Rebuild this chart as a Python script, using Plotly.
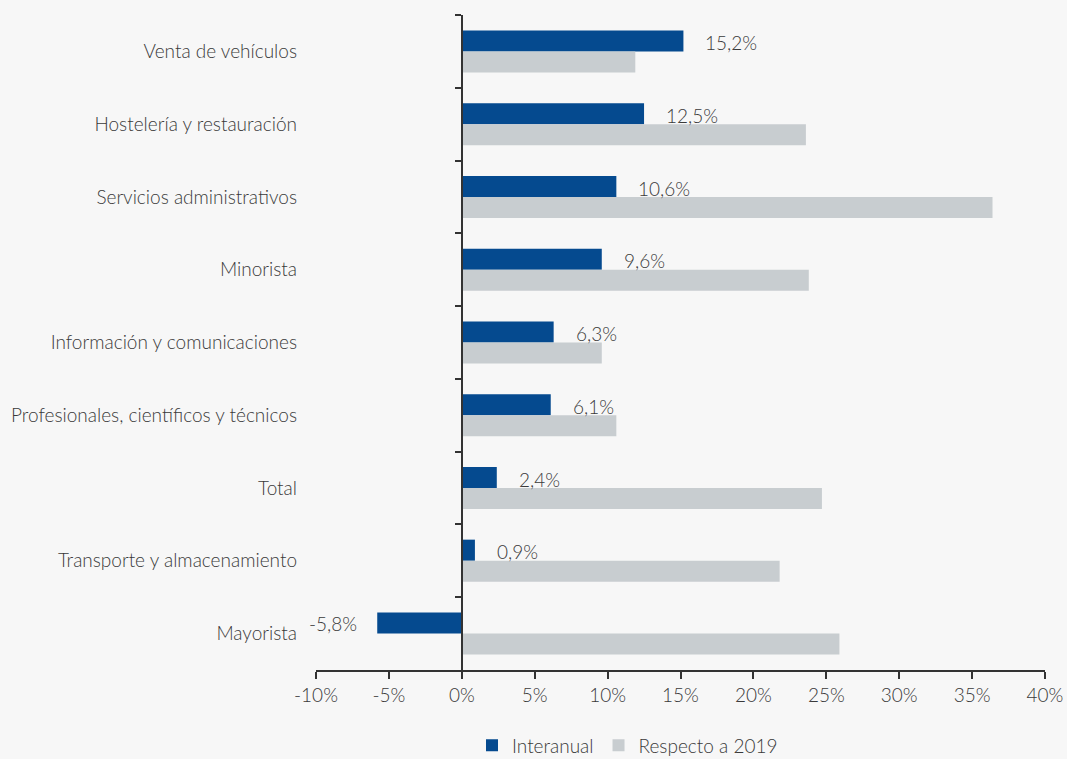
import plotly.graph_objects as go

categories = [
    "Venta de vehículos",
    "Hostelería y restauración",
    "Servicios administrativos",
    "Minorista",
    "Información y comunicaciones",
    "Profesionales, científicos y técnicos",
    "Total",
    "Transporte y almacenamiento",
    "Mayorista",
]
interanual = [15.2, 12.5, 10.6, 9.6, 6.3, 6.1, 2.4, 0.9, -5.8]
respecto_2019 = [11.9, 23.6, 36.4, 23.8, 9.6, 10.6, 24.7, 21.8, 25.9]
tick_vals = [-10, -5, 0, 5, 10, 15, 20, 25, 30, 35, 40]
tick_text = ["-10%", "-5%", "0%", "5%", "10%", "15%", "20%", "25%", "30%", "35%", "40%"]

BLUE = "#054a8f"
GREY = "#c8cdd0"
TXT = "#3a3a3a"
BG = "#f7f7f7"
FONT = "Lato"
W = 300

fig = go.Figure()
fig.add_trace(go.Bar(name="Interanual", y=categories, x=interanual, orientation="h",
                     marker=dict(color=BLUE, line=dict(width=0)), hoverinfo="skip"))
fig.add_trace(go.Bar(name="Respecto a 2019", y=categories, x=respecto_2019, orientation="h",
                     marker=dict(color=GREY, line=dict(width=0)), hoverinfo="skip"))
# invisible helper trace to carry the category axis drawn at 0%
fig.add_trace(go.Scatter(x=[0] * len(categories), y=categories, yaxis="y2", mode="markers",
                         marker=dict(opacity=0), showlegend=False, hoverinfo="skip"))

for c, v in zip(categories, interanual):
    label = f"{v:.1f}%".replace(".", ",")
    if v >= 0:
        fig.add_annotation(x=v, y=c, text=label, showarrow=False, xanchor="left",
                           xshift=20, yshift=9, font=dict(size=19, color=TXT, family=FONT, weight=W))
    else:
        fig.add_annotation(x=v, y=c, text=label, showarrow=False, xanchor="right",
                           xshift=-18, yshift=10, font=dict(size=19, color=TXT, family=FONT, weight=W))

fig.update_layout(
    width=1067, height=759,
    barmode="group", bargap=0.42, bargroupgap=0.0,
    paper_bgcolor=BG, plot_bgcolor=BG,
    margin=dict(l=316, r=22, t=15, b=89, autoexpand=False),
    font=dict(family=FONT, size=18, color=TXT, weight=W),
    xaxis=dict(range=[-10, 40], tickvals=tick_vals, ticktext=tick_text, automargin=False,
               showgrid=False, zeroline=False, showline=True, linecolor="#333", linewidth=1.5,
               ticks="outside", ticklen=7, tickcolor="#333", tickwidth=1.5,
               tickfont=dict(size=19, color=TXT, family=FONT, weight=W), fixedrange=True),
    yaxis=dict(type="category", categoryorder="array", categoryarray=categories,
               autorange="reversed", showgrid=False, zeroline=False, showline=False,
               ticks="", ticklabelstandoff=18, automargin=False,
               tickfont=dict(size=19, color=TXT, family=FONT, weight=W)),
    yaxis2=dict(type="category", categoryorder="array", categoryarray=categories,
                overlaying="y", matches="y", anchor="free", position=10 / 50, side="left",
                showline=True, linecolor="#333", linewidth=1.5, automargin=False,
                ticks="outside", tickson="boundaries", ticklen=6, tickcolor="#333", tickwidth=1.5,
                showticklabels=False, showgrid=False, zeroline=False),
    legend=dict(orientation="h", x=0.214, xanchor="left", y=-0.115, yanchor="middle",
                font=dict(size=19, color=TXT, family=FONT, weight=W), bgcolor="rgba(0,0,0,0)",
                itemwidth=30, traceorder="normal"),
    showlegend=True,
)

fig.write_html("out.html", config={"displayModeBar": False},
               post_script="document.body.style.margin='0';document.body.style.background='#f7f7f7';")
